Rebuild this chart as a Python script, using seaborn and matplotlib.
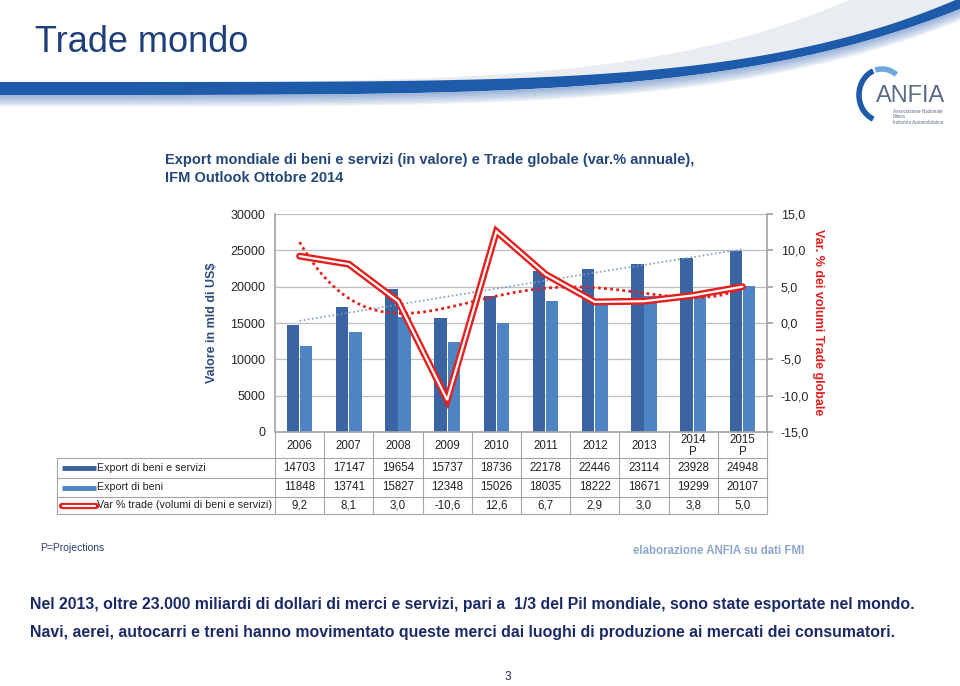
import numpy as np
import pandas as pd
import matplotlib
matplotlib.use("Agg")
import matplotlib.pyplot as plt
from matplotlib.patches import Arc
import seaborn as sns

# dati (IMF Outlook ottobre 2014)
anni = ["2006", "2007", "2008", "2009", "2010", "2011", "2012", "2013", "2014", "2015"]
anni_tabella = ["2006", "2007", "2008", "2009", "2010", "2011", "2012", "2013", "2014\nP", "2015\nP"]
export_beni_servizi = [14703, 17147, 19654, 15737, 18736, 22178, 22446, 23114, 23928, 24948]
export_beni = [11848, 13741, 15827, 12348, 15026, 18035, 18222, 18671, 19299, 20107]
var_trade = [9.2, 8.1, 3.0, -10.6, 12.6, 6.7, 2.9, 3.0, 3.8, 5.0]
serie = ["Export di beni e servizi", "Export di beni", "Var % trade (volumi di beni e servizi)"]

sns.set_theme(style="white")
plt.rcParams["font.family"] = ["Liberation Sans", "DejaVu Sans"]

blu_scuro = "#3B64A2"
blu_chiaro = "#4F84C4"
rosso = "#E3201E"
navy = "#1B2A66"

fig = plt.figure(figsize=(9.6, 6.86), dpi=100)

# sfondo in pixel (y verso il basso)
bg = fig.add_axes([0, 0, 1, 1], zorder=0)
bg.set_xlim(0, 960)
bg.set_ylim(686, 0)
bg.axis("off")

# fascia decorativa in alto
xs = np.linspace(0, 960, 400)
t = xs / 960
top = 82 - 84 * t ** 5
bot = 95 - 86 * t ** 4.5
bg.fill_between(xs, top - 60 * t ** 4, top, color="#E9ECF1", lw=0)
bg.fill_between(xs, top, bot, color="#1E5BAA", lw=0)
for k in range(8):
    bg.fill_between(xs, bot + k * 1.4, bot + (k + 1) * 1.4 + 0.3,
                    color="#8EAAD3", alpha=0.85 - k * 0.1, lw=0)

fig.text(35 / 960, 1 - 42 / 686, "Trade mondo", fontsize=26, color="#1F3F7A",
         ha="left", va="center")

# logo
bg.add_patch(Arc((882, 95), 46, 52, theta1=110, theta2=250, color="#1E5AA8", lw=4))
bg.add_patch(Arc((882, 95), 46, 52, theta1=255, theta2=305, color="#6FA8DC", lw=4))
bg.text(876, 96, "ANFIA", fontsize=17, color="#5A6B86", ha="left", va="center")
bg.text(893, 109, "Associazione Nazionale\nFiliera\nIndustria Automobilistica",
        fontsize=3.3, color="#5A6B86", ha="left", va="top", linespacing=1.1)

# titolo del grafico
fig.text(165 / 960, 1 - 160 / 686,
         "Export mondiale di beni e servizi (in valore) e Trade globale (var.% annuale),",
         fontsize=10.5, fontweight="bold", color="#24477A", ha="left", va="center")
fig.text(165 / 960, 1 - 178 / 686, "IFM Outlook Ottobre 2014",
         fontsize=10.5, fontweight="bold", color="#24477A", ha="left", va="center")

# grafico principale
ax = fig.add_axes([275 / 960, 1 - 432 / 686, 492 / 960, 218 / 686], zorder=2)
ax.patch.set_alpha(0)
df = pd.DataFrame({
    "anno": anni * 2,
    "valore": export_beni_servizi + export_beni,
    "serie": [serie[0]] * len(anni) + [serie[1]] * len(anni),
})
sns.barplot(data=df, x="anno", y="valore", hue="serie", palette=[blu_scuro, blu_chiaro],
            width=0.54, gap=0.06, legend=False, ax=ax, saturation=1, edgecolor="none")
ax.set_xlim(-0.5, 9.5)
ax.set_ylim(0, 30000)
ax.set_yticks(range(0, 30001, 5000))
ax.set_axisbelow(True)
ax.yaxis.grid(True, color="#BFBFBF", lw=0.9)
ax.set_xticks([])
ax.set_xlabel("")
ax.set_ylabel("")
ax.tick_params(axis="y", length=0, pad=7, labelsize=9)
for s in ["top", "right"]:
    ax.spines[s].set_visible(False)
for s in ["left", "bottom"]:
    ax.spines[s].set_color("#A6A6A6")

# trend polinomiale export totale
idx = np.arange(len(anni))
xf = np.linspace(0, len(anni) - 1, 200)
tr_exp = np.polyval(np.polyfit(idx, export_beni_servizi, 2), xf)
sns.lineplot(x=xf, y=tr_exp, ax=ax, color="#7F9AC0", lw=1.2, linestyle=(0, (1, 1.5)), zorder=4)

ax2 = ax.twinx()
ax2.set_ylim(-15, 15)
ax2.set_yticks(range(-15, 16, 5))
ax2.set_yticklabels([f"{v:.1f}".replace(".", ",") for v in range(-15, 16, 5)])
ax2.tick_params(axis="y", length=4, color="#A6A6A6", pad=6, labelsize=9)
for s in ["top", "left", "bottom"]:
    ax2.spines[s].set_visible(False)
ax2.spines["right"].set_color("#A6A6A6")
ax2.grid(False)

tr_var = np.polyval(np.polyfit(idx, var_trade, 4), xf)
sns.lineplot(x=xf, y=tr_var, ax=ax2, color=rosso, lw=2, linestyle=(0, (1, 1.2)))
sns.lineplot(x=idx, y=var_trade, ax=ax2, color=rosso, lw=5, solid_joinstyle="miter")
sns.lineplot(x=idx, y=var_trade, ax=ax2, color="white", lw=1.6, solid_joinstyle="miter")

fig.text(212 / 960, 1 - 323 / 686, "Valore in mld di US$", rotation=90, ha="center",
         va="center", fontsize=9, fontweight="bold", color="#2A4B7C")
fig.text(818 / 960, 1 - 322 / 686, "Var. % dei volumi Trade globale", rotation=-90,
         ha="center", va="center", fontsize=9, fontweight="bold", color=rosso)

# tabella dati
col_w = 492 / 10
x_cols = 275 + col_w * np.arange(11)
rows_y = [432, 458, 478, 497, 514]
lc = "#A6A6A6"
for xc in x_cols:
    bg.plot([xc, xc], [432, 514], color=lc, lw=0.8)
bg.plot([57, 57], [458, 514], color=lc, lw=0.8)
for yr in rows_y[1:]:
    bg.plot([57, 767], [yr, yr], color=lc, lw=0.8)

for i, a in enumerate(anni_tabella):
    bg.text(x_cols[i] + col_w / 2, 446, a, ha="center", va="center", fontsize=8.3,
            linespacing=0.95, color="#222222")

righe = [
    [str(v) for v in export_beni_servizi],
    [str(v) for v in export_beni],
    [f"{v:.1f}".replace(".", ",") for v in var_trade],
]
for r, valori in enumerate(righe):
    yc = (rows_y[r + 1] + rows_y[r + 2]) / 2
    for i, v in enumerate(valori):
        bg.text(x_cols[i] + col_w / 2, yc, v, ha="center", va="center", fontsize=8.3,
                color="#222222")
    bg.text(97, yc, serie[r], ha="left", va="center", fontsize=7.7, color="#222222")

y1 = (rows_y[1] + rows_y[2]) / 2
y2 = (rows_y[2] + rows_y[3]) / 2
y3 = (rows_y[3] + rows_y[4]) / 2
bg.plot([62, 96], [y1, y1], color=blu_scuro, lw=3.5, solid_capstyle="butt")
bg.plot([62, 96], [y2, y2], color=blu_chiaro, lw=3.5, solid_capstyle="butt")
bg.plot([62, 96], [y3, y3], color=rosso, lw=4.5, solid_capstyle="round")
bg.plot([63, 95], [y3, y3], color="white", lw=1.5, solid_capstyle="round")

# note
fig.text(40 / 960, 1 - 548 / 686, "P=Projections", fontsize=7.5, color="#2A3F6E",
         ha="left", va="center")
fig.text(633 / 960, 1 - 551 / 686, "elaborazione ANFIA su dati FMI", fontsize=8.3,
         fontweight="bold", color="#8EA8CB", ha="left", va="center")

fig.text(30 / 960, 1 - 604 / 686,
         "Nel 2013, oltre 23.000 miliardi di dollari di merci e servizi, pari a  1/3 del Pil mondiale, sono state esportate nel mondo.",
         fontsize=11.45, fontweight="bold", color=navy, ha="left", va="center")
fig.text(30 / 960, 1 - 632 / 686,
         "Navi, aerei, autocarri e treni hanno movimentato queste merci dai luoghi di produzione ai mercati dei consumatori.",
         fontsize=11.45, fontweight="bold", color=navy, ha="left", va="center")
fig.text(508 / 960, 1 - 677 / 686, "3", fontsize=8.5, color=navy, ha="center", va="center")

fig.savefig("out.png", dpi=100)
